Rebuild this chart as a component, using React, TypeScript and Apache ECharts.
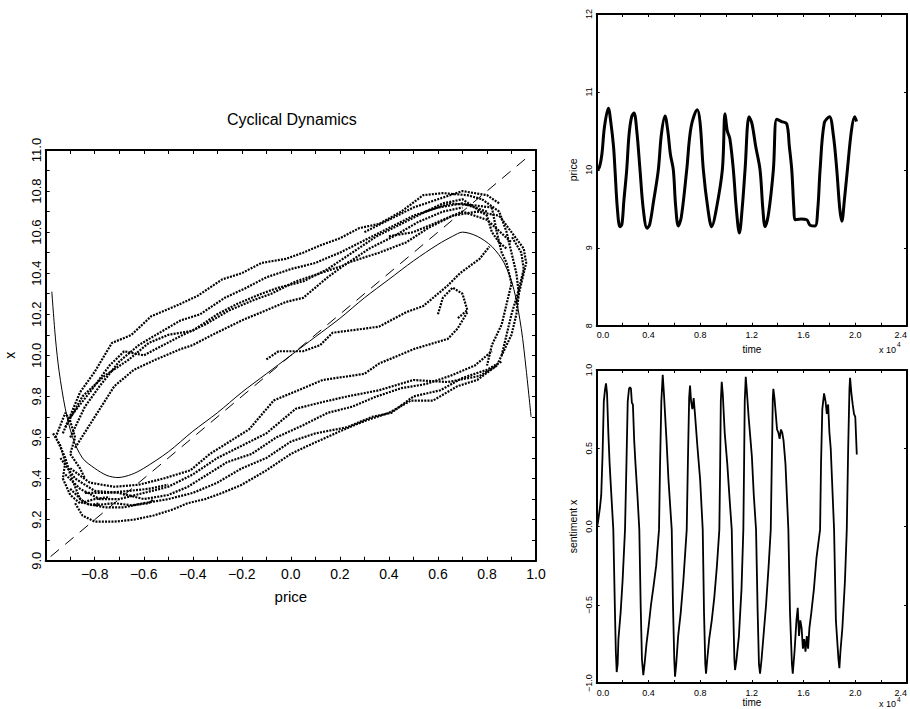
import React, { useEffect, useRef } from "react";
import * as echarts from "echarts";

// ---------- main phase plot: reference curves ----------
const equilibriumCurve: number[][] = [
  [-0.975, 10.31], [-0.96, 10.08], [-0.945, 9.92], [-0.92, 9.74], [-0.89, 9.6], [-0.85, 9.5], [-0.8, 9.45],
  [-0.75, 9.415], [-0.705, 9.405], [-0.65, 9.42], [-0.6, 9.45], [-0.5, 9.53], [-0.4, 9.63], [-0.3, 9.72],
  [-0.2, 9.82], [-0.1, 9.91], [0.0, 10.0], [0.1, 10.09], [0.2, 10.18], [0.3, 10.28], [0.4, 10.37],
  [0.5, 10.46], [0.6, 10.54], [0.66, 10.58], [0.7, 10.6], [0.76, 10.58], [0.82, 10.53], [0.87, 10.45],
  [0.91, 10.32], [0.94, 10.13], [0.96, 9.93], [0.98, 9.7],
];
const diagonalLine: number[][] = [[-0.98, 9.02], [0.98, 10.98]];

// ---------- main phase plot: trajectory strands (price, x) ----------
const upper1: number[][] = [[-0.93, 9.62], [-0.86, 9.82], [-0.8, 9.92], [-0.73, 10.06], [-0.65, 10.1], [-0.57, 10.19], [-0.47, 10.24], [-0.38, 10.29], [-0.28, 10.37], [-0.2, 10.4], [-0.12, 10.45], [-0.02, 10.47], [0.05, 10.5], [0.13, 10.54], [0.2, 10.57], [0.28, 10.62], [0.36, 10.64], [0.45, 10.7], [0.54, 10.78], [0.62, 10.79], [0.72, 10.78], [0.78, 10.76]];
const upper2: number[][] = [[-0.9, 9.6], [-0.84, 9.75], [-0.78, 9.85], [-0.7, 9.97], [-0.62, 10.05], [-0.55, 10.1], [-0.45, 10.17], [-0.37, 10.2], [-0.27, 10.28], [-0.18, 10.33], [-0.1, 10.38], [0.0, 10.42], [0.1, 10.45], [0.2, 10.5], [0.3, 10.56], [0.4, 10.62], [0.5, 10.68], [0.6, 10.72], [0.7, 10.74], [0.8, 10.7]];
const upper3: number[][] = [[-0.88, 9.55], [-0.8, 9.7], [-0.72, 9.85], [-0.64, 9.93], [-0.55, 9.98], [-0.45, 10.03], [-0.4, 10.05], [-0.32, 10.1], [-0.2, 10.17], [-0.1, 10.22], [-0.02, 10.26], [0.05, 10.28], [0.15, 10.38], [0.23, 10.45], [0.36, 10.5], [0.47, 10.55], [0.56, 10.62], [0.66, 10.68], [0.76, 10.7], [0.85, 10.68]];
const upper4: number[][] = [[-0.92, 9.65], [-0.85, 9.8], [-0.76, 9.9], [-0.66, 9.98], [-0.58, 10.06], [-0.5, 10.1], [-0.4, 10.12], [-0.3, 10.2], [-0.22, 10.25], [-0.12, 10.3], [-0.05, 10.33], [0.05, 10.36], [0.15, 10.42], [0.25, 10.5], [0.35, 10.58], [0.45, 10.64], [0.55, 10.7], [0.65, 10.74], [0.75, 10.73], [0.82, 10.72]];
const upper5: number[][] = [[-0.9, 9.7], [-0.82, 9.82], [-0.74, 9.95], [-0.68, 10.02], [-0.6, 10.0], [-0.52, 10.05], [-0.44, 10.1], [-0.35, 10.15], [-0.25, 10.22], [-0.15, 10.27], [-0.08, 10.3], [0.02, 10.36], [0.12, 10.4], [0.22, 10.44], [0.32, 10.52], [0.42, 10.58], [0.52, 10.65], [0.62, 10.7], [0.7, 10.72]];
const lower1: number[][] = [[-0.88, 9.28], [-0.85, 9.22], [-0.8, 9.19], [-0.72, 9.19], [-0.64, 9.2], [-0.56, 9.22], [-0.48, 9.25], [-0.42, 9.28], [-0.35, 9.3], [-0.28, 9.33], [-0.2, 9.37], [-0.1, 9.44], [0.0, 9.52], [0.07, 9.56], [0.2, 9.63], [0.3, 9.68], [0.4, 9.72], [0.49, 9.78], [0.58, 9.78], [0.68, 9.85], [0.76, 9.88], [0.84, 9.95]];
const lower2: number[][] = [[-0.9, 9.35], [-0.84, 9.28], [-0.76, 9.26], [-0.68, 9.26], [-0.6, 9.28], [-0.5, 9.3], [-0.4, 9.33], [-0.3, 9.38], [-0.2, 9.45], [-0.1, 9.5], [0.0, 9.58], [0.1, 9.62], [0.23, 9.65], [0.33, 9.7], [0.41, 9.72], [0.5, 9.8], [0.61, 9.83], [0.7, 9.89], [0.8, 9.93], [0.86, 9.97]];
const lower3: number[][] = [[-0.92, 9.42], [-0.86, 9.35], [-0.78, 9.3], [-0.7, 9.3], [-0.6, 9.33], [-0.5, 9.36], [-0.4, 9.42], [-0.3, 9.5], [-0.2, 9.56], [-0.1, 9.62], [0.02, 9.74], [0.12, 9.77], [0.23, 9.8], [0.36, 9.83], [0.5, 9.88], [0.64, 9.87], [0.77, 9.9], [0.84, 9.95]];
const lower4: number[][] = [[-0.9, 9.45], [-0.82, 9.38], [-0.72, 9.36], [-0.62, 9.37], [-0.52, 9.4], [-0.41, 9.44], [-0.33, 9.52], [-0.25, 9.58], [-0.17, 9.64], [-0.07, 9.78], [0.01, 9.82], [0.13, 9.88], [0.3, 9.91], [0.36, 9.96], [0.5, 10.03], [0.64, 10.08], [0.68, 10.13], [0.72, 10.21]];
const lower5: number[][] = [[-0.94, 9.5], [-0.88, 9.4], [-0.8, 9.34], [-0.7, 9.33], [-0.6, 9.3], [-0.5, 9.32], [-0.42, 9.36], [-0.34, 9.42], [-0.26, 9.48], [-0.16, 9.52], [-0.06, 9.6], [0.05, 9.66], [0.15, 9.72], [0.25, 9.75], [0.35, 9.8], [0.45, 9.84], [0.55, 9.86], [0.65, 9.9], [0.75, 9.95], [0.82, 10.02]];
const middle1: number[][] = [[-0.1, 9.98], [-0.05, 10.02], [0.05, 10.02], [0.12, 10.05], [0.17, 10.11], [0.3, 10.13], [0.36, 10.14], [0.47, 10.21], [0.54, 10.24], [0.64, 10.34], [0.69, 10.4], [0.77, 10.47], [0.81, 10.53]];
const loop1: number[][] = [[0.6, 10.2], [0.62, 10.28], [0.66, 10.33], [0.7, 10.3], [0.72, 10.22], [0.68, 10.18]];
const right1: number[][] = [[0.78, 10.76], [0.85, 10.7], [0.88, 10.6], [0.9, 10.5], [0.92, 10.4], [0.93, 10.3], [0.92, 10.2], [0.9, 10.1], [0.86, 10.0], [0.84, 9.95]];
const right2: number[][] = [[0.82, 10.72], [0.84, 10.6], [0.86, 10.5], [0.88, 10.45], [0.9, 10.35], [0.88, 10.25], [0.86, 10.15], [0.82, 10.05], [0.8, 9.95]];
const right3: number[][] = [[0.85, 10.68], [0.9, 10.6], [0.95, 10.52], [0.96, 10.45], [0.94, 10.35], [0.92, 10.25]];
const right4: number[][] = [[0.86, 10.0], [0.88, 10.1], [0.9, 10.2], [0.93, 10.32], [0.95, 10.42], [0.94, 10.5], [0.9, 10.58]];
const cornerA: number[][] = [[-0.95, 9.58], [-0.92, 9.5], [-0.9, 9.42], [-0.88, 9.36], [-0.86, 9.3], [-0.82, 9.27], [-0.78, 9.28]];
const cornerB: number[][] = [[-0.96, 9.6], [-0.94, 9.66], [-0.92, 9.72], [-0.9, 9.68], [-0.88, 9.6], [-0.9, 9.52], [-0.86, 9.45], [-0.84, 9.4]];
const cornerC: number[][] = [[-0.8, 9.27], [-0.72, 9.28], [-0.65, 9.27], [-0.58, 9.28], [-0.56, 9.3]];
const cornerD: number[][] = [[-0.84, 9.33], [-0.75, 9.33], [-0.66, 9.34], [-0.58, 9.35], [-0.5, 9.37]];
const cornerE: number[][] = [[-0.97, 9.62], [-0.94, 9.56], [-0.92, 9.48], [-0.93, 9.4], [-0.9, 9.32], [-0.86, 9.28], [-0.8, 9.3], [-0.74, 9.31]];
const top1: number[][] = [[0.3, 10.6], [0.4, 10.66], [0.5, 10.72], [0.6, 10.76], [0.7, 10.8], [0.8, 10.78], [0.85, 10.74]];
const top2: number[][] = [[0.4, 10.58], [0.5, 10.6], [0.6, 10.65], [0.7, 10.7], [0.8, 10.66], [0.9, 10.55]];
const top3: number[][] = [[0.55, 10.7], [0.62, 10.74], [0.7, 10.76], [0.75, 10.72], [0.8, 10.68], [0.82, 10.6], [0.85, 10.55], [0.88, 10.52]];

const strands = [upper1, upper2, upper3, upper4, upper5, lower1, lower2, lower3, lower4, lower5, middle1, loop1, right1, right2, right3, right4, cornerA, cornerB, cornerC, cornerD, cornerE, top1, top2, top3];

// ---------- time series (time, value) ----------
const priceData: number[][] = [
  [0, 10.0], [200, 10.03], [400, 10.2], [600, 10.55], [900, 10.79], [1100, 10.6], [1300, 10.3], [1416, 10.0], [1600, 9.5], [1800, 9.27], [1950, 9.3], [2100, 9.6], [2321, 10.0], [2500, 10.45], [2700, 10.68], [2886, 10.73], [3100, 10.5], [3350, 10.0], [3600, 9.5], [3900, 9.25], [4100, 9.3], [4400, 9.6], [4766, 10.0], [5000, 10.45], [5284, 10.69], [5500, 10.5], [5700, 10.2], [5927, 10.0], [6100, 9.55], [6313, 9.28], [6550, 9.4], [6963, 10.0], [7300, 10.55], [7784, 10.77], [8000, 10.6], [8248, 10.0], [8600, 9.5], [8897, 9.27], [9200, 9.45], [9718, 10.0], [9926, 10.72], [10100, 10.5], [10300, 10.4], [10569, 10.0], [10800, 9.5], [11033, 9.19], [11250, 9.5], [11474, 10.0], [11783, 10.68], [12000, 10.6], [12300, 10.3], [12634, 10.0], [12850, 9.5], [13025, 9.27], [13300, 9.45], [13664, 10.0], [13927, 10.65], [14300, 10.62], [14700, 10.59], [14900, 10.3], [15087, 10.0], [15250, 9.5], [15342, 9.36], [15800, 9.37], [16248, 9.36], [16500, 9.29], [16890, 9.28], [17100, 9.5], [17277, 10.0], [17600, 10.6], [18000, 10.68], [18300, 10.45], [18569, 10.0], [18800, 9.5], [18960, 9.34], [19150, 9.6], [19389, 10.0], [19700, 10.5], [19950, 10.68], [20100, 10.62],
];
const sentimentData: number[][] = [
  [0, -0.02], [100, 0.03], [250, 0.12], [350, 0.2], [450, 0.45], [550, 0.8], [650, 0.88], [720, 0.915], [800, 0.85], [900, 0.6], [1000, 0.4], [1100, 0.25], [1285, -0.02], [1400, -0.5], [1480, -0.8], [1547, -0.93], [1620, -0.88], [1680, -0.72], [1750, -0.65], [1850, -0.55], [2000, -0.35], [2190, -0.02], [2300, 0.4], [2400, 0.8], [2500, 0.88], [2576, 0.89], [2650, 0.88], [2720, 0.79], [2800, 0.78], [2900, 0.55], [3000, 0.4], [3150, 0.2], [3296, -0.02], [3400, -0.5], [3500, -0.85], [3605, -0.95], [3700, -0.88], [3850, -0.75], [4000, -0.65], [4200, -0.5], [4400, -0.38], [4600, -0.25], [4820, -0.02], [4900, 0.4], [5000, 0.8], [5106, 0.97], [5200, 0.85], [5300, 0.7], [5400, 0.55], [5550, 0.3], [5803, -0.02], [5900, -0.5], [6000, -0.85], [6058, -0.96], [6150, -0.88], [6300, -0.7], [6500, -0.55], [6700, -0.35], [6963, -0.02], [7050, 0.4], [7150, 0.82], [7218, 0.9], [7300, 0.8], [7400, 0.75], [7500, 0.82], [7600, 0.72], [7800, 0.5], [8000, 0.3], [8201, -0.02], [8300, -0.55], [8400, -0.88], [8456, -0.94], [8550, -0.85], [8700, -0.72], [8900, -0.6], [9100, -0.45], [9300, -0.25], [9486, -0.02], [9550, 0.4], [9600, 0.8], [9671, 0.925], [9750, 0.85], [9900, 0.6], [10100, 0.4], [10300, 0.15], [10445, -0.02], [10550, -0.5], [10650, -0.85], [10700, -0.917], [10800, -0.86], [11000, -0.7], [11200, -0.4], [11342, -0.02], [11400, 0.4], [11450, 0.8], [11528, 0.957], [11600, 0.88], [11750, 0.7], [11900, 0.55], [12000, 0.45], [12150, 0.2], [12325, -0.02], [12450, -0.55], [12550, -0.88], [12634, -0.94], [12750, -0.85], [12900, -0.7], [13100, -0.5], [13300, -0.25], [13462, -0.02], [13550, 0.45], [13620, 0.82], [13664, 0.88], [13750, 0.82], [13850, 0.72], [13950, 0.62], [14050, 0.6], [14150, 0.56], [14250, 0.62], [14350, 0.6], [14450, 0.55], [14600, 0.4], [14824, -0.02], [14950, -0.55], [15100, -0.88], [15164, -0.94], [15300, -0.8], [15450, -0.6], [15550, -0.52], [15650, -0.7], [15750, -0.6], [15850, -0.65], [15950, -0.78], [16050, -0.72], [16150, -0.8], [16250, -0.7], [16350, -0.78], [16450, -0.65], [16600, -0.55], [16800, -0.4], [17000, -0.2], [17277, -0.02], [17350, 0.4], [17450, 0.75], [17586, 0.85], [17700, 0.8], [17800, 0.72], [17900, 0.78], [18000, 0.6], [18100, 0.5], [18200, 0.3], [18360, -0.02], [18500, -0.6], [18700, -0.85], [18770, -0.905], [18850, -0.8], [19000, -0.65], [19200, -0.35], [19342, -0.02], [19450, 0.5], [19550, 0.88], [19598, 0.95], [19700, 0.85], [19800, 0.78], [19900, 0.72], [20000, 0.7], [20116, 0.46],
];

const FONT = "Liberation Sans";
const minus = (s: string) => s.replace("-", "\u2212");

function frameAxes(gridIndex: number, min: number, max: number, interval: number, tickLen: number, isX: boolean, label: any, name?: any) {
  const line = { show: true, onZero: false, lineStyle: { color: "#000", width: 2 } };
  const tick = { show: true, inside: true, length: tickLen, lineStyle: { color: "#000", width: 1 } };
  const base = { type: "value", gridIndex, min, max, interval, splitLine: { show: false }, axisLine: line, axisTick: tick };
  const primary: any = { ...base, position: isX ? "bottom" : "left", axisLabel: label, ...(name || {}) };
  const mirror: any = { ...base, position: isX ? "top" : "right", axisLabel: { show: false } };
  return [primary, mirror];
}

export default function App() {
  const ref = useRef<HTMLDivElement>(null);
  useEffect(() => {
    if (!ref.current) return;
    const chart = echarts.init(ref.current, undefined, { renderer: "svg" });

    const mainX = frameAxes(0, -1, 1, 0.1, 4, true, {
      color: "#000", fontSize: 14, fontFamily: FONT, margin: 6,
      formatter: (v: number) => { const k = Math.round(v * 10); return k % 2 !== 0 || k === -10 ? "" : minus((k / 10).toFixed(1)); },
    }, { name: "price", nameLocation: "middle", nameGap: 28, nameTextStyle: { color: "#000", fontSize: 15, fontFamily: FONT } });
    const mainY = frameAxes(0, 9, 11, 0.1, 4, false, {
      color: "#000", fontSize: 13, fontFamily: FONT, margin: 3, rotate: 90,
      formatter: (v: number) => { const k = Math.round(v * 10); return k % 2 !== 0 ? "" : (k / 10).toFixed(1); },
    }, { name: "x", nameLocation: "middle", nameGap: 29, nameTextStyle: { color: "#000", fontSize: 14, fontFamily: FONT } });

    const timeLabel = {
      color: "#000", fontSize: 9, fontFamily: FONT, margin: 5, alignMinLabel: "left", alignMaxLabel: "right",
      formatter: (v: number) => { const k = Math.round(v / 2000); return k % 2 !== 0 ? "" : (k / 5).toFixed(1); },
    };
    const topX = frameAxes(1, 0, 24000, 2000, 3, true, timeLabel,
      { name: "time", nameLocation: "middle", nameGap: 19, nameTextStyle: { color: "#000", fontSize: 10, fontFamily: FONT } });
    const topY = frameAxes(1, 8, 12, 1, 3, false, {
      color: "#000", fontSize: 9, fontFamily: FONT, margin: 3, rotate: 90, formatter: (v: number) => String(v),
    }, { name: "price", nameLocation: "middle", nameGap: 18, nameTextStyle: { color: "#000", fontSize: 10.5, fontFamily: FONT } });
    const botX = frameAxes(2, 0, 24000, 2000, 3, true, timeLabel,
      { name: "time", nameLocation: "middle", nameGap: 13, nameTextStyle: { color: "#000", fontSize: 10, fontFamily: FONT } });
    const botY = frameAxes(2, -1, 1, 0.5, 3, false, {
      color: "#000", fontSize: 9, fontFamily: FONT, margin: 3, rotate: 90, formatter: (v: number) => minus(v.toFixed(1)),
    }, { name: "sentiment x", nameLocation: "middle", nameGap: 18, nameTextStyle: { color: "#000", fontSize: 10.5, fontFamily: FONT } });

    const strandSeries = strands.map((d) => ({
      type: "line", xAxisIndex: 0, yAxisIndex: 0, data: d, showSymbol: false, silent: true, clip: true,
      lineStyle: { color: "#000", width: 2.2, type: [2, 1.2] },
    }));

    chart.setOption({
      animation: false,
      backgroundColor: "#fff",
      textStyle: { fontFamily: FONT },
      title: {
        text: "Cyclical Dynamics", left: 222, top: 106,
        textStyle: { color: "#000", fontSize: 16, fontWeight: "normal", fontFamily: FONT },
      },
      grid: [
        { left: 45.7, top: 150, width: 490.3, height: 410.7, containLabel: false, outerBoundsMode: "none" },
        { left: 596.7, top: 14, width: 310.3, height: 311.7, containLabel: false, outerBoundsMode: "none" },
        { left: 596.7, top: 370, width: 310.3, height: 313, containLabel: false, outerBoundsMode: "none" },
      ],
      xAxis: [...mainX, ...topX, ...botX],
      yAxis: [...mainY, ...topY, ...botY],
      graphic: [
        { type: "text", left: 879, top: 345, style: { text: "x 10", fill: "#000", font: `9px "${FONT}"` } },
        { type: "text", left: 897, top: 341, style: { text: "4", fill: "#000", font: `6.5px "${FONT}"` } },
        { type: "text", left: 879, top: 699, style: { text: "x 10", fill: "#000", font: `9px "${FONT}"` } },
        { type: "text", left: 897, top: 696, style: { text: "4", fill: "#000", font: `6.5px "${FONT}"` } },
      ],
      series: [
        ...strandSeries,
        {
          type: "line", xAxisIndex: 0, yAxisIndex: 0, data: equilibriumCurve, showSymbol: false, smooth: 0.3, silent: true,
          lineStyle: { color: "#000", width: 1 },
        },
        {
          type: "line", xAxisIndex: 0, yAxisIndex: 0, data: diagonalLine, showSymbol: false, silent: true,
          lineStyle: { color: "#000", width: 1, type: [11, 8] },
        },
        {
          type: "line", xAxisIndex: 2, yAxisIndex: 2, data: priceData, showSymbol: false, smooth: 0.35, silent: true,
          lineStyle: { color: "#000", width: 3 },
        },
        {
          type: "line", xAxisIndex: 4, yAxisIndex: 4, data: sentimentData, showSymbol: false, silent: true,
          lineStyle: { color: "#000", width: 1.8 },
        },
      ],
    });
    return () => chart.dispose();
  }, []);
  return <div ref={ref} style={{ position: "absolute", left: 0, top: 0, width: 910, height: 709, background: "#fff" }} />;
}
